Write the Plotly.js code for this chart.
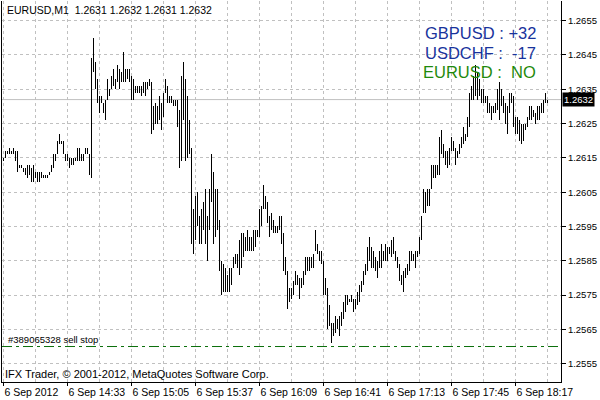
<!DOCTYPE html>
<html>
<head>
<meta charset="utf-8">
<script src="https://cdn.plot.ly/plotly-3.0.1.min.js"></script>
<style>html,body{margin:0;padding:0;background:#fff;}#chart{width:600px;height:400px;}
.scatterlayer path.js-line{shape-rendering:crispEdges;}</style>
</head>
<body>
<div id="chart"></div>
<script>
// ---- data ----
const symbolHeader = 'EURUSD,M1&nbsp;&nbsp;1.2631 1.2632 1.2631 1.2632';
const startTime = {date: '2012-09-06', hour: 14, minute: 1};   // first M1 bar
const highs = [
1.2615,1.2617,1.2617,1.2618,1.2617,1.2618,1.2617,1.2617,1.2613,1.2613,
1.2612,1.2612,1.2613,1.2613,1.2612,1.2613,1.2611,1.2611,1.2611,1.2611,
1.2610,1.2610,1.2610,1.2611,1.2613,1.2616,1.2616,1.2620,1.2622,1.2620,
1.2620,1.2616,1.2616,1.2615,1.2615,1.2615,1.2615,1.2618,1.2618,1.2616,
1.2616,1.2618,1.2618,1.2616,1.2644,1.2650,1.2643,1.2638,1.2633,1.2633,
1.2631,1.2632,1.2638,1.2635,1.2639,1.2641,1.2638,1.2642,1.2641,1.2640,
1.2646,1.2641,1.2641,1.2641,1.2639,1.2638,1.2636,1.2636,1.2636,1.2636,
1.2637,1.2637,1.2637,1.2638,1.2637,1.2630,1.2631,1.2630,1.2633,1.2631,
1.2634,1.2638,1.2636,1.2633,1.2633,1.2632,1.2632,1.2632,1.2629,1.2639,
1.2643,1.2638,1.2633,1.2626,1.2618,1.2600,1.2604,1.2605,1.2598,1.2600,
1.2602,1.2606,1.2598,1.2606,1.2616,1.2611,1.2606,1.2606,1.2597,1.2585,
1.2584,1.2583,1.2581,1.2583,1.2583,1.2586,1.2587,1.2587,1.2591,1.2593,
1.2593,1.2592,1.2594,1.2592,1.2592,1.2594,1.2594,1.2594,1.2600,1.2601,
1.2607,1.2604,1.2602,1.2598,1.2599,1.2597,1.2595,1.2595,1.2598,1.2598,
1.2593,1.2586,1.2582,1.2577,1.2577,1.2579,1.2582,1.2581,1.2580,1.2580,
1.2582,1.2586,1.2586,1.2586,1.2586,1.2587,1.2594,1.2590,1.2588,1.2588,
1.2585,1.2580,1.2577,1.2572,1.2567,1.2567,1.2569,1.2568,1.2569,1.2570,
1.2573,1.2575,1.2575,1.2574,1.2575,1.2574,1.2574,1.2576,1.2578,1.2579,
1.2582,1.2584,1.2589,1.2592,1.2589,1.2588,1.2586,1.2585,1.2588,1.2590,
1.2588,1.2590,1.2589,1.2589,1.2591,1.2592,1.2588,1.2586,1.2584,1.2581,
1.2582,1.2583,1.2584,1.2588,1.2588,1.2587,1.2588,1.2588,1.2592,1.2598,
1.2606,1.2605,1.2606,1.2606,1.2613,1.2613,1.2613,1.2613,1.2621,1.2623,
1.2619,1.2617,1.2617,1.2618,1.2621,1.2620,1.2618,1.2617,1.2619,1.2621,
1.2624,1.2622,1.2627,1.2634,1.2636,1.2639,1.2642,1.2640,1.2638,1.2635,
1.2635,1.2633,1.2633,1.2631,1.2630,1.2630,1.2631,1.2635,1.2637,1.2635,
1.2633,1.2631,1.2630,1.2634,1.2634,1.2633,1.2627,1.2627,1.2626,1.2625,
1.2625,1.2625,1.2627,1.2630,1.2630,1.2629,1.2628,1.2630,1.2630,1.2631,
1.2632,1.2634,1.2632
];
const lows = [
1.2614,1.2615,1.2616,1.2616,1.2616,1.2616,1.2614,1.2611,1.2612,1.2612,
1.2611,1.2610,1.2609,1.2610,1.2608,1.2608,1.2609,1.2608,1.2608,1.2609,
1.2609,1.2609,1.2609,1.2610,1.2611,1.2612,1.2614,1.2616,1.2619,1.2619,
1.2616,1.2614,1.2614,1.2612,1.2613,1.2613,1.2614,1.2614,1.2614,1.2614,
1.2614,1.2616,1.2616,1.2610,1.2609,1.2640,1.2635,1.2631,1.2628,1.2631,
1.2628,1.2626,1.2632,1.2633,1.2635,1.2636,1.2635,1.2637,1.2635,1.2637,
1.2637,1.2637,1.2638,1.2637,1.2632,1.2632,1.2634,1.2634,1.2634,1.2633,
1.2634,1.2633,1.2635,1.2636,1.2622,1.2623,1.2625,1.2625,1.2626,1.2623,
1.2627,1.2634,1.2631,1.2631,1.2631,1.2630,1.2630,1.2624,1.2612,1.2614,
1.2626,1.2614,1.2615,1.2616,1.2590,1.2587,1.2591,1.2595,1.2590,1.2590,
1.2594,1.2590,1.2585,1.2594,1.2602,1.2590,1.2592,1.2594,1.2582,1.2575,
1.2576,1.2576,1.2576,1.2576,1.2578,1.2583,1.2584,1.2583,1.2581,1.2583,
1.2586,1.2588,1.2588,1.2588,1.2588,1.2588,1.2589,1.2592,1.2592,1.2595,
1.2600,1.2600,1.2596,1.2592,1.2594,1.2593,1.2593,1.2593,1.2594,1.2590,
1.2582,1.2581,1.2571,1.2573,1.2574,1.2575,1.2578,1.2578,1.2574,1.2577,
1.2578,1.2581,1.2582,1.2582,1.2583,1.2583,1.2588,1.2587,1.2585,1.2584,
1.2575,1.2575,1.2565,1.2566,1.2561,1.2563,1.2564,1.2565,1.2563,1.2566,
1.2568,1.2570,1.2572,1.2573,1.2573,1.2570,1.2571,1.2572,1.2573,1.2576,
1.2578,1.2581,1.2582,1.2585,1.2583,1.2583,1.2582,1.2580,1.2583,1.2583,
1.2585,1.2585,1.2585,1.2587,1.2586,1.2587,1.2585,1.2583,1.2579,1.2578,
1.2576,1.2580,1.2581,1.2582,1.2585,1.2585,1.2583,1.2586,1.2587,1.2591,
1.2599,1.2599,1.2601,1.2601,1.2606,1.2609,1.2609,1.2610,1.2610,1.2616,
1.2615,1.2613,1.2612,1.2613,1.2617,1.2617,1.2613,1.2615,1.2616,1.2618,
1.2619,1.2620,1.2621,1.2624,1.2632,1.2632,1.2633,1.2632,1.2633,1.2631,
1.2631,1.2631,1.2628,1.2628,1.2626,1.2628,1.2628,1.2629,1.2626,1.2630,
1.2628,1.2625,1.2622,1.2628,1.2631,1.2624,1.2622,1.2622,1.2620,1.2619,
1.2620,1.2623,1.2624,1.2626,1.2626,1.2627,1.2625,1.2626,1.2626,1.2628,
1.2628,1.2631,1.2631
];
const xTickLabels = ['6 Sep 2012','6 Sep 14:33','6 Sep 15:05','6 Sep 15:37','6 Sep 16:09',
                     '6 Sep 16:41','6 Sep 17:13','6 Sep 17:45','6 Sep 18:17'];
const currentPrice = 1.2632;
const sellStopPrice = 1.2560;
const sellStopLabel = '#389065328 sell stop';
const infoLines = ['GBPUSD : +32', 'USDCHF :&nbsp;&nbsp;-17', 'EURUSD :&nbsp;&nbsp;NO'];
const footerText = 'IFX Trader, \u00a9 2001-2012, MetaQuotes Software Corp.';

// ---- helpers ----
function timeAt(mOffset) {
  const total = (startTime.hour * 60 + startTime.minute + mOffset) * 60;
  const s = Math.round(total);
  const hh = String(Math.floor(s / 3600)).padStart(2, '0');
  const mm = String(Math.floor((s % 3600) / 60)).padStart(2, '0');
  const ss = String(s % 60).padStart(2, '0');
  return startTime.date + ' ' + hh + ':' + mm + ':' + ss;
}

const bx = [], by = [];
for (let i = 0; i < highs.length; i++) {
  const t = timeAt(i);
  bx.push(t, t, null);
  by.push(highs[i], lows[i], null);
}
const tickVals = xTickLabels.map((_, k) => timeAt(k * 32));

const GRID = '#c0c0c0';
const FONT = 'Liberation Sans, Arial, sans-serif';

const trace = {
  type: 'scatter', mode: 'lines', x: bx, y: by,
  line: {color: '#000', width: 1}, hoverinfo: 'skip', connectgaps: false
};

const layout = {
  width: 600, height: 400,
  margin: {l: 2, r: 39, t: 1, b: 18, autoexpand: false},
  paper_bgcolor: '#fff', plot_bgcolor: '#fff',
  showlegend: false,
  font: {family: FONT, size: 10, color: '#000'},
  xaxis: {
    type: 'date',
    range: [timeAt(-0.75), timeAt(278.75)],
    tickmode: 'array', tickvals: tickVals, ticktext: xTickLabels,
    tickangle: 0,
    ticks: 'outside', ticklen: 3, tickcolor: '#000',
    ticklabelposition: 'outside right',
    tickfont: {family: FONT, size: 10.5, color: '#000'},
    showgrid: true, gridcolor: GRID, griddash: '3px,3px', gridwidth: 1,
    minor: {tick0: timeAt(16), dtick: 32 * 60000, showgrid: true, gridcolor: GRID, griddash: '3px,3px', ticks: ''},
    showline: true, linecolor: '#000', linewidth: 1, mirror: false,
    zeroline: false, fixedrange: true
  },
  yaxis: {
    side: 'right',
    range: [1.254966, 1.266074],
    tick0: 1.2555, dtick: 0.001, tickformat: '.4f',
    ticks: 'outside', ticklen: 4, tickcolor: '#000',
    tickfont: {family: FONT, size: 9.5, color: '#000'},
    showgrid: true, gridcolor: GRID, griddash: '3px,3px', gridwidth: 1,
    showline: true, linecolor: '#000', linewidth: 1, mirror: true,
    zeroline: false, fixedrange: true
  },
  shapes: [
    {type: 'line', xref: 'paper', x0: 0, x1: 1, yref: 'y', y0: currentPrice, y1: currentPrice,
     line: {color: GRID, width: 1}, layer: 'below'},
    {type: 'line', xref: 'paper', x0: 0, x1: 1, yref: 'y', y0: sellStopPrice, y1: sellStopPrice,
     line: {color: '#0a6e0a', width: 1, dash: '10px,4px,3px,4px'}}
  ],
  annotations: [
    {text: symbolHeader, xref: 'paper', yref: 'paper', x: 0, y: 1, xanchor: 'left', yanchor: 'top',
     xshift: 4, yshift: -2, showarrow: false, borderpad: 0, font: {family: FONT, size: 10.5, color: '#000'}},
    {text: infoLines[0], xref: 'paper', yref: 'paper', x: 0.9589, y: 0.916, xanchor: 'right', yanchor: 'middle',
     showarrow: false, font: {family: FONT, size: 16.5, color: '#18339c'}},
    {text: infoLines[1], xref: 'paper', yref: 'paper', x: 0.9589, y: 0.8635, xanchor: 'right', yanchor: 'middle',
     showarrow: false, font: {family: FONT, size: 16.5, color: '#18339c'}},
    {text: infoLines[2], xref: 'paper', yref: 'paper', x: 0.9589, y: 0.8136, xanchor: 'right', yanchor: 'middle',
     showarrow: false, font: {family: FONT, size: 16.5, color: '#1f8a0c'}},
    {text: String(currentPrice.toFixed(4)), xref: 'paper', yref: 'y', x: 1, y: currentPrice,
     xanchor: 'left', yanchor: 'middle', xshift: 1, showarrow: false, bgcolor: '#000', borderpad: 1,
     font: {family: FONT, size: 9.5, color: '#fff'}},
    {text: sellStopLabel, xref: 'paper', yref: 'y', x: 0, y: sellStopPrice, xanchor: 'left', yanchor: 'bottom',
     xshift: 5, yshift: 1, showarrow: false, borderpad: 0, font: {family: FONT, size: 9.5, color: '#000'}},
    {text: footerText, xref: 'paper', yref: 'paper', x: 0, y: 0.021, xanchor: 'left', yanchor: 'middle',
     xshift: 2, showarrow: false, borderpad: 0, font: {family: FONT, size: 11, color: '#000'}}
  ]
};

Plotly.newPlot('chart', [trace], layout, {staticPlot: true, displayModeBar: false});
</script>
</body>
</html>
